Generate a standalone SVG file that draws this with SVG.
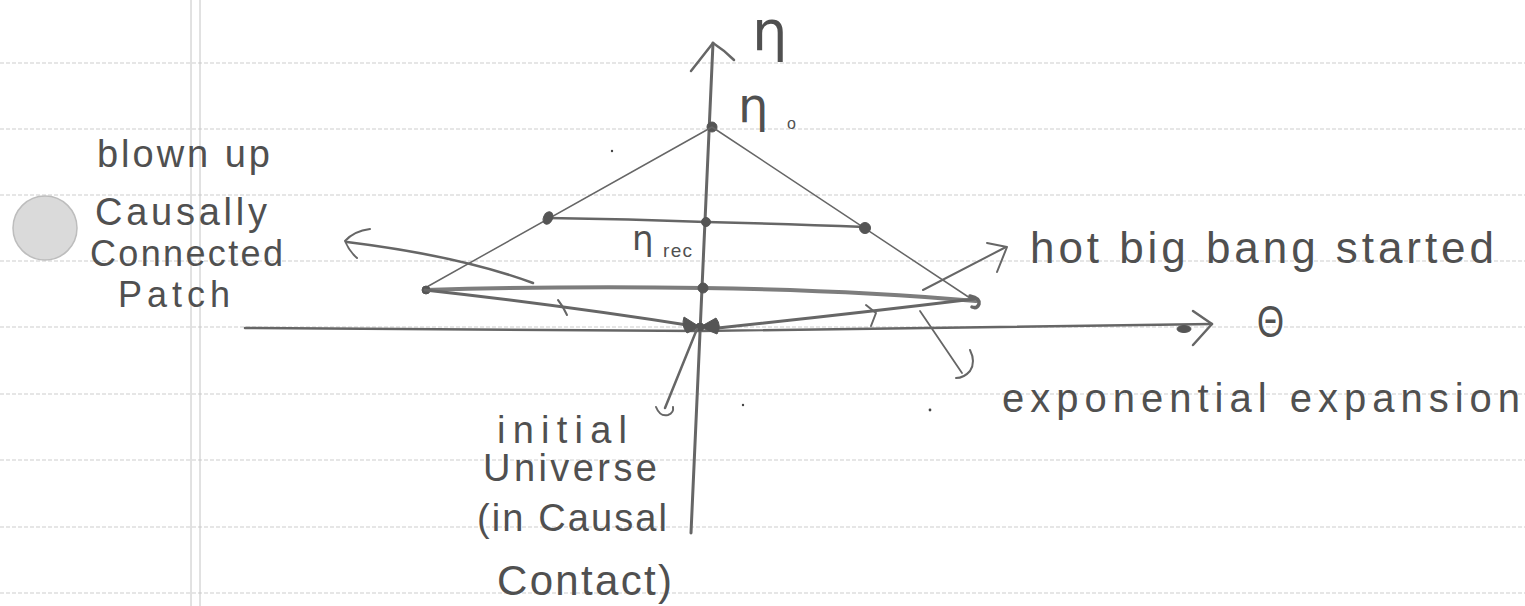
<svg xmlns="http://www.w3.org/2000/svg" width="1525" height="606" viewBox="0 0 1525 606">
<style>
.paper{stroke:#cdcdcd;stroke-width:1;stroke-dasharray:4 2;fill:none}
.margin{stroke:#c4c4c4;stroke-width:1;fill:none}
.pen{stroke:#666;fill:none;stroke-linecap:round;stroke-linejoin:round}
.thin{stroke-width:1.5}
.mid{stroke-width:2.5}
.thick{stroke-width:4;stroke:#7d7d7d}
.dot{fill:#555;stroke:#555;stroke-width:1}
.hand{font-family:"Liberation Sans","DejaVu Sans",sans-serif;fill:#505050}
.greek{font-family:"DejaVu Sans","Liberation Sans",sans-serif;fill:#505050}
</style>
<rect width="1525" height="606" fill="#fff"/>
<g id="paper">
<line class="paper" x1="0" y1="63" x2="1525" y2="63"/>
<line class="paper" x1="0" y1="129" x2="1525" y2="129"/>
<line class="paper" x1="0" y1="195" x2="1525" y2="195"/>
<line class="paper" x1="0" y1="261" x2="1525" y2="261"/>
<line class="paper" x1="0" y1="327" x2="1525" y2="327"/>
<line class="paper" x1="0" y1="394" x2="1525" y2="394"/>
<line class="paper" x1="0" y1="460" x2="1525" y2="460"/>
<line class="paper" x1="0" y1="527" x2="1525" y2="527"/>
<line class="paper" x1="0" y1="593" x2="1525" y2="593"/>
<line class="margin" x1="191" y1="0" x2="191" y2="606"/>
<line class="margin" x1="200" y1="0" x2="200" y2="606"/>
</g>

<g id="eta-axis">
<path class="pen" stroke-width="3" d="M691,533 L713,43"/>
<path class="pen mid" d="M691,71 L713,43 Q724,50 734,60"/>
<text class="greek" x="752" y="50" font-size="56">η</text>
</g>

<g id="theta-axis">
<path class="pen" stroke-width="2.5" stroke="#6e6e6e" d="M245,328 L700,331 L1212,324"/>
<path class="pen mid" d="M1193,311 L1212,324 L1193,345"/>
<ellipse class="dot" cx="1184" cy="329" rx="7" ry="3.5"/>
<text class="hand" x="1257" y="337" font-size="44" textLength="27" lengthAdjust="spacingAndGlyphs">Θ</text>
</g>

<g id="eta0">
<circle class="dot" cx="712" cy="127" r="5"/>
<text class="greek" x="738" y="122" font-size="48">η</text>
<text class="hand" x="787" y="129" font-size="16">o</text>
</g>

<g id="eta-rec">
<text class="greek" x="632" y="250" font-size="34">η</text>
<text class="hand" x="663" y="257" font-size="19" textLength="29">rec</text>
</g>

<g id="patch-label">
<circle cx="45" cy="228" r="32" fill="#dadada" stroke="#bdbdbd" stroke-width="1.5"/>
<text class="hand" x="97" y="167" font-size="38" textLength="173">blown up</text>
<text class="hand" x="95" y="225" font-size="38" textLength="172">Causally</text>
<text class="hand" x="90" y="266" font-size="36" textLength="193">Connected</text>
<text class="hand" x="118" y="307" font-size="36" textLength="112">Patch</text>
</g>

<g id="hot-big-bang-label">
<text class="hand" x="1030" y="263" font-size="44" textLength="464">hot big bang started</text>
</g>

<g id="exponential-label">
<text class="hand" x="1002" y="412" font-size="40" textLength="518">exponential expansion</text>
</g>

<g id="initial-universe-label">
<text class="hand" x="497" y="443" font-size="38" textLength="130">initial</text>
<text class="hand" x="483" y="481" font-size="38" textLength="174">Universe</text>
<text class="hand" x="477" y="531" font-size="38" textLength="190">(in Causal</text>
<text class="hand" x="497" y="595" font-size="42" textLength="175">Contact)</text>
</g>

<g id="connectors">
<path class="pen thin" d="M425,288 L712,127 L976,302"/>
<path class="pen mid" stroke="#7a7a7a" d="M548,218 Q630,219 706,222 Q790,224 865,227"/>
<ellipse class="dot" cx="548" cy="218" rx="4.5" ry="6.5" transform="rotate(25 548 218)"/>
<circle class="dot" cx="706" cy="222" r="4.5"/>
<circle class="dot" cx="865" cy="228" r="5.5"/>
<path class="pen thick" d="M425,290 Q560,286 703,288 Q850,290 976,301"/>
<circle class="dot" cx="703" cy="288" r="5"/>
<circle class="dot" cx="426" cy="290" r="4"/>
<path class="pen" stroke-width="3.5" stroke="#555" d="M970,296 Q980,298 979,304 Q977,309 972,307"/>
<path class="pen" stroke-width="3" stroke="#777" d="M425,290 Q560,305 700,327"/>
<path class="pen" stroke-width="3" stroke="#777" d="M718,328 Q850,314 974,299"/>
<path class="pen" stroke-width="2" d="M558,300 Q563,306 567,315"/>
<path class="pen" stroke-width="2" d="M866,305 L876,313 L871,326"/>
<path class="dot" d="M700,327 L684,317 Q681,326 687,333 Z"/>
<path class="dot" d="M700,327 L716,318 Q722,326 717,334 Z"/>
<circle class="dot" cx="700" cy="327" r="4"/>
<path class="pen mid" stroke="#555" d="M697,329 L665,408"/>
<path class="pen" stroke-width="2" d="M656,407 Q660,417 668,415 Q674,413 673,407"/>
<path class="pen" stroke-width="2.5" stroke="#777" d="M533,283 Q460,256 347,242"/>
<path class="pen" stroke-width="2" d="M370,229 Q354,231 345,241 Q349,251 357,258"/>
<path class="pen" stroke-width="2" stroke="#777" d="M923,290 L1006,247"/>
<path class="pen" stroke-width="2" d="M987,243 L1007,247 L997,272"/>
<path class="pen" stroke-width="1.8" d="M920,311 L962,373"/>
<path class="pen" stroke-width="2" d="M970,350 Q976,362 970,371 Q964,378 956,378"/>
<circle cx="612" cy="151" r="1.2" fill="#444"/>
<circle cx="743" cy="405" r="1.2" fill="#444"/>
<circle cx="930" cy="410" r="1.4" fill="#444"/>
</g>
</svg>
